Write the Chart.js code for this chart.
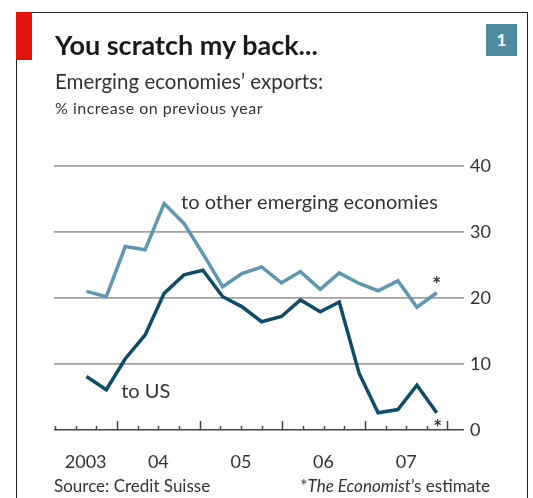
<!DOCTYPE html>
<html>
<head>
<meta charset="utf-8">
<title>You scratch my back...</title>
<script src="https://cdn.jsdelivr.net/npm/chart.js@4.4.1/dist/chart.umd.min.js"></script>
<style>
    body { margin: 0; background: #fff; font-family: Lato, "Open Sans", sans-serif; }
    #wrap { position: relative; width: 533px; height: 498px; overflow: hidden; }
    #chart { position: absolute; left: 0; top: 0; }
    .frame { position: absolute; left: 16px; top: 12px; width: 512px; height: 520px;
             border: 1.5px solid #222; border-bottom: none; box-sizing: border-box; }
    .flag { position: absolute; left: 16px; top: 12px; width: 16px; height: 48px; background: #e3120b; }
    .txt { position: absolute; line-height: 1; white-space: nowrap; }
    .title { left: 55px; top: 31px; font-size: 27px; font-weight: 700; color: #1a1a1a; }
    .sub { left: 55px; top: 71px; font-size: 20.5px; color: #333; }
    .unit { left: 55px; top: 100px; font-size: 16px; letter-spacing: 0.5px; color: #333; }
    .num { position: absolute; left: 486px; top: 24px; width: 31px; height: 32px; background: #4d8ba5;
           color: #fff; font-weight: 700; font-size: 17px; line-height: 32px; text-align: center; }
    .source { left: 54px; top: 477px; font-size: 17px; color: #333; }
    .note { right: 43px; top: 477px; font-size: 17px; color: #333; }
</style>
</head>
<body>
<div id="wrap">
    <canvas id="chart" width="533" height="498"></canvas>
    <div class="frame"></div>
    <div class="flag"></div>
    <div class="txt title">You scratch my back...</div>
    <div class="txt sub">Emerging economies’ exports:</div>
    <div class="txt unit">% increase on previous year</div>
    <div class="num">1</div>
    <div class="txt source">Source: Credit Suisse</div>
    <div class="txt note">*<i>The Economist</i>’s estimate</div>
</div>
<script>
// observation dates (decimal years)
const periods = [2003.63, 2003.87, 2004.10, 2004.34, 2004.57, 2004.81, 2005.04, 2005.28, 2005.51, 2005.75,
                 2005.99, 2006.22, 2006.46, 2006.69, 2006.93, 2007.16, 2007.40, 2007.63, 2007.87];

// % increase on previous year
const toOtherEmerging = [21.0, 20.2, 27.8, 27.3, 34.3, 31.3, 26.7, 21.7, 23.7, 24.7,
                         22.3, 24.0, 21.3, 23.8, 22.2, 21.1, 22.6, 18.6, 20.8];
const toUS = [8.1, 6.1, 10.8, 14.4, 20.7, 23.5, 24.2, 20.2, 18.7, 16.4,
              17.2, 19.7, 17.9, 19.4, 8.6, 2.6, 3.1, 6.8, 2.6];

const yTicks = [0, 10, 20, 30, 40];
const yearLabels = ['2003', '04', '05', '06', '07'];
const yearLabelAt = [2003.62, 2004.5, 2005.5, 2006.5, 2007.5];

const lightBlue = '#5f97b0';
const darkBlue = '#0f4c68';
const textColor = '#333';
const labelFont = '20px Lato, "Open Sans", sans-serif';

// quarter tick marks rising from the zero line, taller at year boundaries
const axisTicks = {
    id: 'axisTicks',
    afterDraw(chart) {
        const { ctx, scales: { x, y } } = chart;
        const base = y.getPixelForValue(0);
        ctx.save();
        ctx.strokeStyle = '#444';
        ctx.lineWidth = 1.5;
        for (let q = 2003.25; q <= 2008.001; q += 0.25) {
            const px = Math.round(x.getPixelForValue(q)) + 0.5;
            const len = Math.abs(q - Math.round(q)) < 0.01 ? 9 : 4;
            ctx.beginPath();
            ctx.moveTo(px, base);
            ctx.lineTo(px, base - len);
            ctx.stroke();
        }
        ctx.restore();
    }
};

// series names and estimate markers
const seriesLabels = {
    id: 'seriesLabels',
    afterDraw(chart) {
        const { ctx, scales: { x, y } } = chart;
        ctx.save();
        ctx.fillStyle = textColor;
        ctx.font = labelFont;
        ctx.textBaseline = 'alphabetic';
        ctx.fillText('to other emerging economies', x.getPixelForValue(2004.775), y.getPixelForValue(33.5));
        ctx.fillText('to US', x.getPixelForValue(2004.05), y.getPixelForValue(4.9));
        ctx.font = 'bold 21px Lato, sans-serif';
        ctx.textAlign = 'center';
        ctx.textBaseline = 'middle';
        const last = periods.length - 1;
        ctx.fillText('*', x.getPixelForValue(periods[last]), y.getPixelForValue(toOtherEmerging[last]) - 7);
        ctx.fillText('*', x.getPixelForValue(periods[last]) + 1, y.getPixelForValue(toUS[last]) + 15);
        ctx.restore();
    }
};

new Chart(document.getElementById('chart').getContext('2d'), {
    type: 'line',
    data: {
        datasets: [
            {
                label: 'to US',
                data: periods.map((p, i) => ({ x: p, y: toUS[i] })),
                borderColor: darkBlue,
                borderWidth: 3.5,
                borderJoinStyle: 'miter',
                pointRadius: 0,
                tension: 0
            },
            {
                label: 'to other emerging economies',
                data: periods.map((p, i) => ({ x: p, y: toOtherEmerging[i] })),
                borderColor: lightBlue,
                borderWidth: 3.5,
                borderJoinStyle: 'miter',
                pointRadius: 0,
                tension: 0
            }
        ]
    },
    options: {
        responsive: false,
        animation: false,
        layout: { padding: { left: 54, right: 0, top: 166, bottom: 0 } },
        plugins: {
            legend: { display: false },
            tooltip: { enabled: false }
        },
        scales: {
            x: {
                type: 'linear',
                min: 2003.237,
                max: 2008.2,
                afterBuildTicks: s => { s.ticks = yearLabelAt.map(v => ({ value: v })); },
                afterFit: s => { s.height = 68; },
                grid: { display: false, drawTicks: false },
                border: { display: false },
                ticks: {
                    autoSkip: false,
                    maxRotation: 0,
                    padding: 21,
                    color: textColor,
                    font: { family: 'Lato, "Open Sans", sans-serif', size: 18 },
                    callback: (v, i) => yearLabels[i]
                }
            },
            y: {
                position: 'right',
                min: 0,
                max: 40,
                afterBuildTicks: s => { s.ticks = yTicks.map(v => ({ value: v })); },
                afterFit: s => { s.width = 69; },
                grid: {
                    drawTicks: false,
                    color: c => c.tick && c.tick.value === 0 ? '#444' : '#a0a0a0',
                    lineWidth: c => c.tick && c.tick.value === 0 ? 1.5 : 1.8
                },
                border: { display: false },
                ticks: {
                    padding: 6,
                    color: textColor,
                    font: { family: 'Lato, "Open Sans", sans-serif', size: 18 }
                }
            }
        }
    },
    plugins: [axisTicks, seriesLabels]
});
</script>
</body>
</html>
